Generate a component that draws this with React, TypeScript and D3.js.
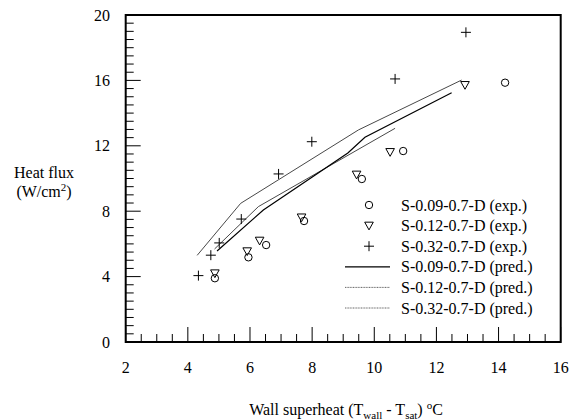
import React from "react";
import * as d3 from "d3";

const W = 569;
const H = 420;

const xTicks = [2, 4, 6, 8, 10, 12, 14, 16];
const yTicks = [0, 4, 8, 12, 16, 20];

// experimental
const circX = [4.87, 5.95, 6.52, 7.74, 9.6, 10.93, 14.21];
const circY = [3.9, 5.18, 5.93, 7.4, 9.97, 11.68, 15.86];
const triX = [4.87, 5.91, 6.31, 7.66, 9.43, 10.51, 12.92];
const triY = [4.2, 5.55, 6.2, 7.62, 10.24, 11.62, 15.72];
const plusX = [4.34, 4.74, 5.01, 5.72, 6.92, 7.99, 10.67, 12.95];
const plusY = [4.06, 5.31, 6.06, 7.52, 10.28, 12.25, 16.09, 18.94];

// predictions
const pred09X = [4.94, 6.43, 9.15, 9.7, 12.49];
const pred09Y = [5.57, 8.07, 11.56, 12.52, 15.25];
const pred12X = [4.86, 6.27, 10.67];
const pred12Y = [5.69, 8.28, 13.07];
const pred32X = [4.3, 5.7, 9.49, 12.81];
const pred32Y = [5.3, 8.48, 12.97, 16.02];

const legendLabels = [
  "S-0.09-0.7-D (exp.)",
  "S-0.12-0.7-D (exp.)",
  "S-0.32-0.7-D (exp.)",
  "S-0.09-0.7-D (pred.)",
  "S-0.12-0.7-D (pred.)",
  "S-0.32-0.7-D (pred.)",
];

const FONT = '"Liberation Serif", "DejaVu Serif", "Times New Roman", serif';

const x = d3.scaleLinear().domain([2, 16]).range([125.7, 560.7]);
const y = d3.scaleLinear().domain([0, 20]).range([342, 15]);

const zip = (a: number[], b: number[]) => a.map((v, i) => [v, b[i]] as [number, number]);

const lineGen = d3
  .line<[number, number]>()
  .x((d) => x(d[0]))
  .y((d) => y(d[1]));

function Circle({ cx, cy }: { cx: number; cy: number }) {
  return <circle cx={cx} cy={cy} r={3.7} fill="none" stroke="#000" strokeWidth={1} />;
}
function Tri({ cx, cy }: { cx: number; cy: number }) {
  const s = 4.3;
  return (
    <path
      d={`M${cx - s},${cy - s * 0.8} L${cx + s},${cy - s * 0.8} L${cx},${cy + s} Z`}
      fill="none"
      stroke="#000"
      strokeWidth={1}
    />
  );
}
function Plus({ cx, cy }: { cx: number; cy: number }) {
  const s = 5;
  return (
    <path
      d={`M${cx - s},${cy} H${cx + s} M${cx},${cy - s} V${cy + s}`}
      fill="none"
      stroke="#000"
      strokeWidth={1}
    />
  );
}

export default function App() {
  const [x0, x1] = x.range();
  const [y0, y1] = y.range();
  const xMinor = d3.range(2, 16.001, 0.5);
  const yMinor = d3.range(0, 20.001, 0.5);
  const legX = 369;
  const legTextX = 401;
  const legY0 = 205;
  const legDy = 20.6;
  const ts: React.CSSProperties = { fontFamily: FONT };

  return (
    <svg
      width={W}
      height={H}
      style={{ position: "absolute", left: 0, top: 0, background: "#fff", fontFamily: FONT }}
    >
      <rect width={W} height={H} fill="#fff" />
      {/* ticks */}
      {xMinor.map((t, i) => {
        const major = Math.abs(t % 2) < 1e-6;
        return (
          <line key={"xt" + i} x1={x(t)} x2={x(t)} y1={y0} y2={y0 - (major ? 15 : 8)} stroke="#000" strokeWidth={1} />
        );
      })}
      {yMinor.map((t, i) => {
        const major = Math.abs(t % 4) < 1e-6;
        return (
          <line key={"yt" + i} x1={x0} x2={x0 + (major ? 15 : 8)} y1={y(t)} y2={y(t)} stroke="#000" strokeWidth={1} />
        );
      })}
      {/* frame */}
      <rect x={x0} y={y1} width={x1 - x0} height={y0 - y1} fill="none" stroke="#000" strokeWidth={2} />

      {/* tick labels */}
      {xTicks.map((t) => (
        <text key={"xl" + t} style={ts} x={x(t)} y={373} textAnchor="middle" fontSize={16}>
          {t}
        </text>
      ))}
      {yTicks.map((t) => (
        <text key={"yl" + t} style={ts} x={110} y={y(t) + 5.5} textAnchor="end" fontSize={16}>
          {t}
        </text>
      ))}

      {/* axis titles */}
      <text style={ts} x={44} y={178} textAnchor="middle" fontSize={16}>
        Heat flux
      </text>
      <text style={ts} x={44} y={197} textAnchor="middle" fontSize={16}>
        (W/cm<tspan dy={-6} fontSize={11}>2</tspan>
        <tspan dy={6}>)</tspan>
      </text>
      <text style={ts} x={346} y={415} textAnchor="middle" fontSize={16}>
        Wall superheat (T<tspan dy={4} fontSize={11}>wall</tspan>
        <tspan dy={-4}> - T</tspan>
        <tspan dy={4} fontSize={11}>sat</tspan>
        <tspan dy={-4}>) </tspan>
        <tspan dy={-6} fontSize={11}>o</tspan>
        <tspan dy={6}>C</tspan>
      </text>

      {/* prediction lines */}
      <path d={lineGen(zip(pred32X, pred32Y)) || ""} fill="none" stroke="#333" strokeWidth={0.9} />
      <path d={lineGen(zip(pred12X, pred12Y)) || ""} fill="none" stroke="#333" strokeWidth={0.9} />
      <path d={lineGen(zip(pred09X, pred09Y)) || ""} fill="none" stroke="#000" strokeWidth={1.2} />

      {/* experimental markers */}
      {zip(circX, circY).map((d, i) => (
        <Circle key={"c" + i} cx={x(d[0])} cy={y(d[1])} />
      ))}
      {zip(triX, triY).map((d, i) => (
        <Tri key={"t" + i} cx={x(d[0])} cy={y(d[1])} />
      ))}
      {zip(plusX, plusY).map((d, i) => (
        <Plus key={"p" + i} cx={x(d[0])} cy={y(d[1])} />
      ))}

      {/* legend */}
      {legendLabels.map((lab, i) => {
        const ly = legY0 + i * legDy;
        let sym: React.ReactNode = null;
        if (i === 0) sym = <Circle cx={legX} cy={ly} />;
        else if (i === 1) sym = <Tri cx={legX} cy={ly} />;
        else if (i === 2) sym = <Plus cx={legX} cy={ly} />;
        else
          sym = (
            <line
              x1={345}
              x2={390}
              y1={ly}
              y2={ly}
              stroke={i === 3 ? "#000" : "#555"}
              strokeWidth={i === 3 ? 1.2 : 0.9}
              strokeDasharray={i === 3 ? undefined : "1,0.6"}
            />
          );
        return (
          <g key={"lg" + i}>
            {sym}
            <text style={ts} x={legTextX} y={ly + 5.5} fontSize={16}>
              {lab}
            </text>
          </g>
        );
      })}
    </svg>
  );
}
